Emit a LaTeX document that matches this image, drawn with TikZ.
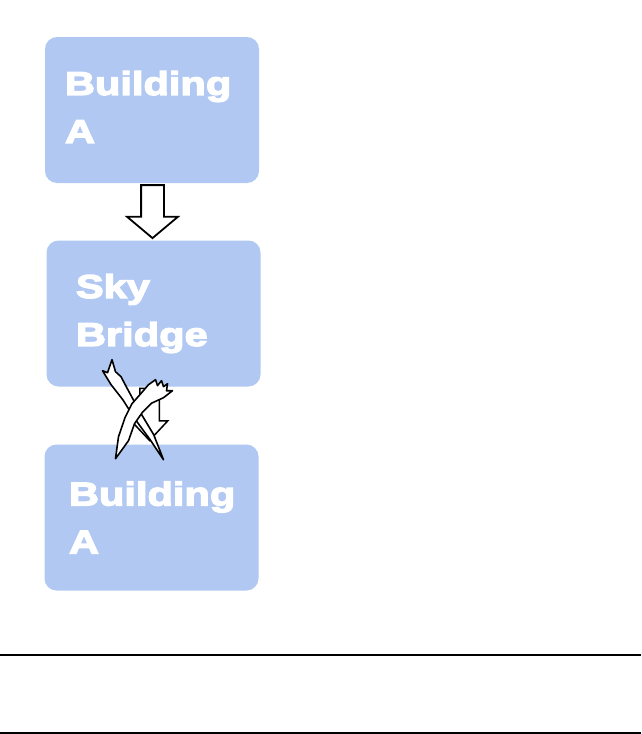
\documentclass[tikz,border=0pt]{standalone}
\usepackage{fontspec}
\usepackage{xcolor}
\usepackage{tikz}
\usetikzlibrary{arrows.meta,positioning,shapes.arrows,calc}
\newfontfamily\boxfont[FakeStretch=1.26,FakeBold=4]{Liberation Sans Bold}
\definecolor{skyblue}{RGB}{177,201,242}

\begin{document}
\begin{tikzpicture}[
    x=1pt, y=-1pt,
    building/.style={rounded corners=12pt, fill=skyblue, minimum width=214pt,
                     minimum height=146pt, align=left, text=white,
                     font=\boxfont\fontsize{33pt}{48pt}\selectfont},
    hollowarrow/.style={single arrow, draw, fill=white, line width=1.8pt,
                        rotate=-90, anchor=tail, inner xsep=0pt,
                        line join=miter},
    scratch/.style={draw, fill=white, line width=1.6pt, line join=round},
  ]
  \useasboundingbox (0,0) rectangle (641,734);

  % ── Boxes ──
  \node[building, inner xsep=20pt, text width=174pt, text depth=54pt]
    at (152, 110) (bldga) {Building\\A};
  \node[building, inner xsep=29pt, text width=155pt] at (153.5, 313.5) (bridge)
    {Sky\\Bridge};
  \node[building, inner xsep=24pt, text width=165pt] at (151.5, 517.5) (bldgb)
    {Building\\A};

  % ── Arrows between boxes ──
  \node[hollowarrow, inner ysep=10.5pt, minimum height=53pt,
        single arrow head extend=14pt, single arrow tip angle=100]
    at ($(bldga.south) + (0.5, 1)$) (walk) {};
  \node[hollowarrow, inner ysep=9pt, minimum height=52pt, line width=1.5pt,
        single arrow head extend=8.5pt, single arrow tip angle=86]
    at ($(bridge.south) + (-4, 1)$) (noway) {};

  % ── Crossed-out mark over the second arrow ──
  \begin{scope}[shift={(noway.tail)}]
    \draw[scratch] (-47,-17) -- (-42,-15) -- (-37.5,-28) -- (-34,-16)
      -- (-28.5,-11) -- (-22.7,0) -- (-10.8,22) -- (4.2,47) -- (14,72)
      -- (0.6,52) -- (-14,32) -- (-26.7,12) -- (-38.4,-3) -- cycle;
    \draw[scratch] (-34,71) -- (-31,49) -- (-24.5,30) -- (-17.5,16) -- (-7,4)
      -- (-1,-3) -- (6,-8) -- (8,-2) -- (12,-7) -- (14,-1) -- (18,-4)
      -- (17,3) -- (23,3) -- (14,10) -- (2,15.5) -- (-7,24.5) -- (-15,36)
      -- (-21,53) -- cycle;
  \end{scope}

  % ── Rules at the bottom ──
  \draw[line width=1.3pt] (0,655) -- (641,655);
  \draw[line width=1.3pt] (0,733) -- (641,733);

\end{tikzpicture}
\end{document}
